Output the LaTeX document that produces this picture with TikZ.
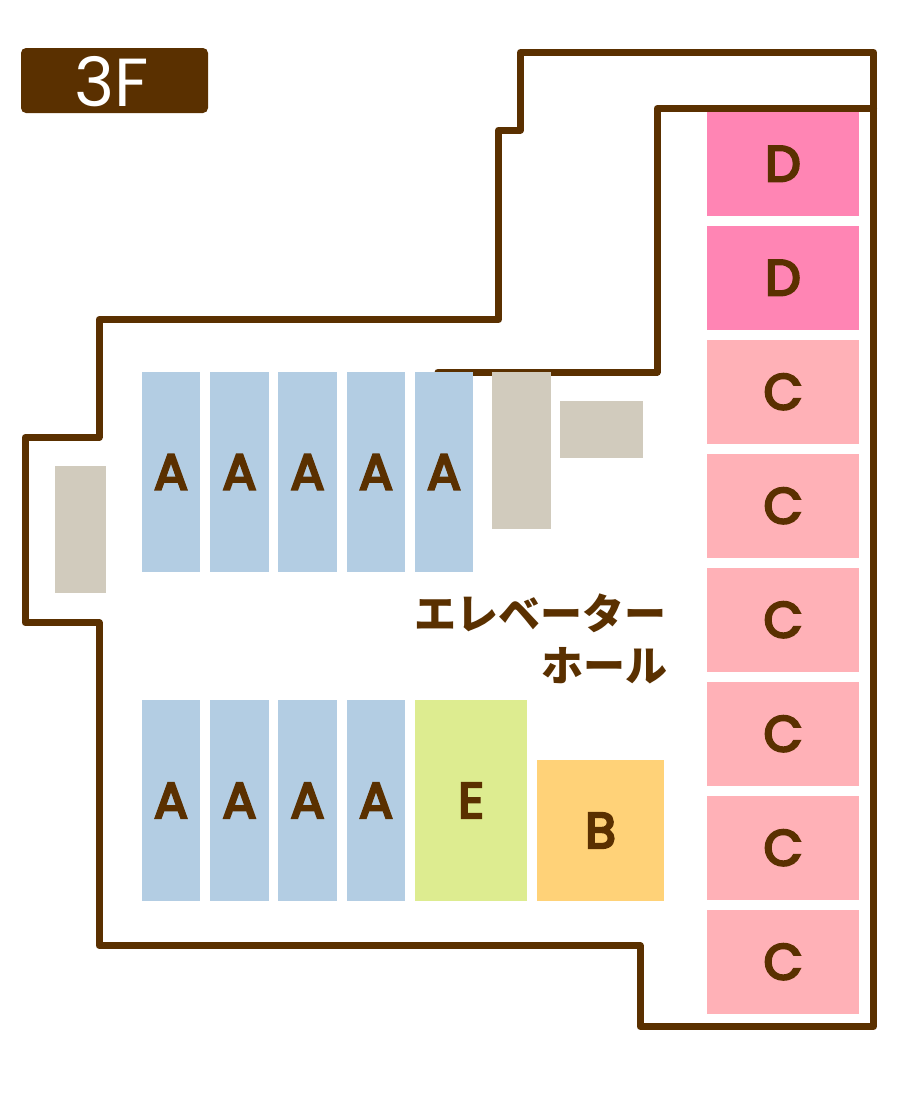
\documentclass[tikz,border=0pt]{standalone}
\usepackage{fontspec}
\setmainfont{Poppins}
\newfontfamily\lblfont[FakeBold=5]{Poppins}
\newfontfamily\jpfont{Noto Sans CJK JP}
\definecolor{wall}{HTML}{5A3000}
\definecolor{colA}{HTML}{B3CDE3}
\definecolor{colB}{HTML}{FFD278}
\definecolor{colC}{HTML}{FFB1B7}
\definecolor{colD}{HTML}{FF85B4}
\definecolor{colE}{HTML}{DDEC90}
\definecolor{colG}{HTML}{D1CBBD}
\tikzset{
  wallline/.style={draw=wall,line width=7pt,line join=round,line cap=round},
  room/.style={inner sep=0pt,outer sep=0pt,text=wall,font=\lblfont\fontsize{50}{50}\selectfont,anchor=center},
}
\newcommand{\roombox}[7]{%
  \node[room,fill=#6,minimum width={(#4-#2)*1pt},minimum height={(#5-#3)*1pt}] (#1) at ({(#2+#4)/2},{(#3+#5)/2}) {#7};}
\begin{document}
\begin{tikzpicture}[x=1pt,y=-1pt]
\useasboundingbox (0,0) rectangle (900,1100);
\fill[white] (0,0) rectangle (900,1100);
\draw[wallline] (873.5,52.5) -- (520.5,52.5) -- (520.5,130) -- (498.5,130) -- (498.5,319.5) -- (99,319.5) -- (99,437.5) -- (25,437.5) -- (25,622.5) -- (99,622.5) -- (99,945.5) -- (640,945.5) -- (640,1026.5) -- (873.5,1026.5) -- cycle;
\draw[wallline] (873.5,108.5) -- (657,108.5) -- (657,372) -- (438,372);
\roombox{d1}{707}{112}{859}{215.5}{colD}{D}
\roombox{d2}{707}{226}{859}{329.5}{colD}{D}
\roombox{c1}{707}{340}{859}{443.5}{colC}{C}
\roombox{c2}{707}{454}{859}{557.5}{colC}{C}
\roombox{c3}{707}{568}{859}{671.5}{colC}{C}
\roombox{c4}{707}{682}{859}{785.5}{colC}{C}
\roombox{c5}{707}{796}{859}{899.5}{colC}{C}
\roombox{c6}{707}{910}{859}{1013.5}{colC}{C}
\roombox{a1}{142}{372}{200}{572}{colA}{A}
\roombox{a2}{210}{372}{269}{572}{colA}{A}
\roombox{a3}{278}{372}{337}{572}{colA}{A}
\roombox{a4}{347}{372}{405}{572}{colA}{A}
\roombox{a5}{415}{372}{473}{572}{colA}{A}
\roombox{a6}{142}{700}{200}{901}{colA}{A}
\roombox{a7}{210}{700}{269}{901}{colA}{A}
\roombox{a8}{278}{700}{337}{901}{colA}{A}
\roombox{a9}{347}{700}{405}{901}{colA}{A}
\roombox{e1}{415}{700}{527}{901}{colE}{E}
\roombox{b1}{537}{760}{664}{901}{colB}{B}
\roombox{g1}{492}{372}{551}{529}{colG}{}
\roombox{g2}{560}{401}{643}{458}{colG}{}
\roombox{g3}{55}{466}{106}{593}{colG}{}
\node[anchor=base east,inner sep=0pt,text=wall,font=\jpfont\fontsize{42}{42}\selectfont\bfseries] (hall1) at (667,629) {エレベーター};
\node[anchor=base east,inner sep=0pt,text=wall,font=\jpfont\fontsize{42}{42}\selectfont\bfseries] (hall2) at (668,681) {ホール};
\node[fill=wall,rounded corners=5pt,minimum width=187pt,minimum height=65pt,inner sep=0pt] (floor) at (114.5,80.5) {};
\node[inner sep=0pt,text=white,font=\fontsize{68}{68}\selectfont] (floorlabel) at (112,82) {3F};
\end{tikzpicture}
\end{document}
